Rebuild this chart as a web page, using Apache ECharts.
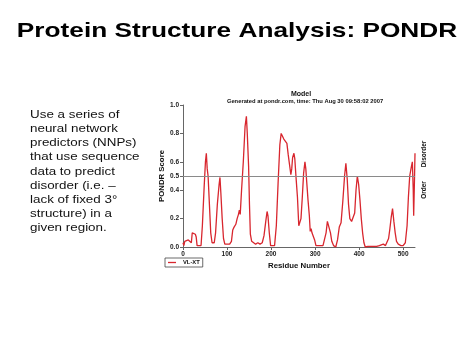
<!DOCTYPE html>
<html>
<head>
<meta charset="utf-8">
<script src="https://cdn.jsdelivr.net/npm/echarts@6/dist/echarts.min.js"></script>
<style>
html,body{margin:0;padding:0;background:#fff;}
#chart{width:474px;height:355px;}
</style>
</head>
<body>
<div id="chart"></div>
<script>
var pageTitle = 'Protein Structure Analysis: PONDR';
var bodyLines = ['Use a series of', 'neural network', 'predictors (NNPs)', 'that use sequence', 'data to predict', 'disorder (i.e. \u2013', 'lack of fixed 3\u00b0', 'structure) in a', 'given region.'];
var chartTitle = 'Model';
var chartSubtitle = 'Generated at pondr.com, time: Thu Aug 30 09:58:02 2007';
var seriesName = 'VL-XT';
var xTicks = [0, 100, 200, 300, 400, 500];
var yTicks = [0, 0.2, 0.4, 0.5, 0.6, 0.8, 1.0];
var threshold = 0.5;
var residues = [0,2,4,8,12,16,19,21,25,28,30,32,36,41,44,48,51,53,55,57,60,63,66,71,74,78,82,84,86,89,92,95,100,106,110,113,116,118,120,123,126,128,130,133,137,141,144,146,149,151,153,156,160,165,170,175,180,184,188,191,193,196,199,203,208,212,216,220,223,226,229,233,236,239,242,245,247,249,252,254,257,260,263,265,268,271,274,277,279,281,284,287,289,291,293,296,299,302,310,318,322,325,328,332,335,338,342,347,351,355,359,363,367,370,373,376,379,383,387,390,393,396,399,402,405,408,411,414,420,430,440,446,450,455,460,464,467,470,473,476,479,482,485,489,495,500,505,509,512,515,519,521,523,524,526,527];
var scores = [0.03,0.01,0.04,0.04,0.05,0.04,0.03,0.10,0.10,0.09,0.07,0.01,0.00,0.01,0.15,0.42,0.60,0.66,0.55,0.50,0.30,0.10,0.03,0.03,0.10,0.30,0.44,0.49,0.38,0.20,0.06,0.02,0.02,0.02,0.04,0.12,0.14,0.13,0.16,0.20,0.23,0.26,0.23,0.40,0.60,0.85,0.92,0.80,0.57,0.30,0.09,0.04,0.03,0.02,0.03,0.02,0.03,0.08,0.18,0.25,0.22,0.10,0.01,0.00,0.01,0.15,0.45,0.72,0.80,0.78,0.76,0.75,0.73,0.65,0.58,0.51,0.55,0.63,0.66,0.62,0.48,0.35,0.15,0.14,0.20,0.35,0.52,0.60,0.55,0.46,0.33,0.22,0.11,0.13,0.10,0.09,0.05,0.01,0.01,0.01,0.02,0.10,0.18,0.18,0.10,0.04,0.01,0.00,0.05,0.14,0.17,0.32,0.50,0.59,0.48,0.30,0.20,0.18,0.17,0.24,0.40,0.50,0.44,0.33,0.20,0.10,0.03,0.00,0.005,0.005,0.005,0.01,0.02,0.02,0.01,0.02,0.06,0.13,0.21,0.27,0.18,0.10,0.04,0.02,0.01,0.01,0.03,0.15,0.35,0.50,0.57,0.60,0.40,0.22,0.50,0.66];

var data = residues.map(function (r, i) { return [r, scores[i]]; });
var chart = echarts.init(document.getElementById('chart'), null, {renderer: 'canvas'});
var FF = '"Liberation Sans", Arial, sans-serif';
chart.setOption({
  animation: false,
  backgroundColor: '#ffffff',
  title: [
    {text: chartTitle, left: 296, top: 86, textAlign: 'center', textStyle: {fontFamily: FF, fontSize: 7, fontWeight: 'bold', color: '#111'}},
    {text: chartSubtitle, left: 300, top: 93.5, textAlign: 'center', textStyle: {fontFamily: FF, fontSize: 5.8, fontWeight: 'bold', color: '#111'}}
  ],
  graphic: [
    {type: 'text', x: 237, y: 31, scaleX: 1.3, style: {text: pageTitle, font: 'bold 20.2px ' + FF, fill: '#000', textAlign: 'center', textVerticalAlign: 'middle'}},
    {type: 'text', x: 30, y: 108, scaleX: 1.29, style: {text: bodyLines.join('\n'), font: '10.4px ' + FF, lineHeight: 14.17, fill: '#111', textAlign: 'left', textVerticalAlign: 'top'}},
    {type: 'text', x: 424, y: 154, rotation: Math.PI / 2, style: {text: 'Disorder', font: 'bold 6.5px ' + FF, fill: '#111', textAlign: 'center', textVerticalAlign: 'middle'}},
    {type: 'text', x: 424, y: 190, rotation: Math.PI / 2, style: {text: 'Order', font: 'bold 6.5px ' + FF, fill: '#111', textAlign: 'center', textVerticalAlign: 'middle'}}
  ],
  legend: {
    data: [{name: seriesName, icon: 'rect'}], left: 165, top: 258, orient: 'horizontal',
    borderColor: '#444', borderWidth: 0.8, padding: [1.5, 3, 1.5, 3],
    itemWidth: 8, itemHeight: 1.3, itemGap: 2,
    textStyle: {fontFamily: FF, fontSize: 5.8, fontWeight: 'bold', color: '#111', padding: [0, 0, 0, 2]}
  },
  grid: {left: 183, right: 59, top: 105, bottom: 108, containLabel: false},
  xAxis: {
    type: 'value', min: 0, max: 527,
    name: 'Residue Number', nameLocation: 'middle', nameGap: 15,
    nameTextStyle: {fontFamily: FF, fontSize: 7.8, fontWeight: 'bold', color: '#111'},
    axisLine: {lineStyle: {color: '#666', width: 1}},
    axisTick: {show: true, customValues: xTicks, length: 3, lineStyle: {color: '#666'}},
    axisLabel: {customValues: xTicks, fontFamily: FF, fontSize: 6.5, color: '#222', margin: 4, fontWeight: 'bold'},
    splitLine: {show: false}
  },
  yAxis: {
    type: 'value', min: 0, max: 1,
    name: 'PONDR Score', nameLocation: 'middle', nameGap: 17, nameRotate: 90,
    nameTextStyle: {fontFamily: FF, fontSize: 7.8, fontWeight: 'bold', color: '#111'},
    axisLine: {show: true, lineStyle: {color: '#666', width: 1}},
    axisTick: {show: true, customValues: yTicks, length: 3, lineStyle: {color: '#666'}},
    axisLabel: {customValues: yTicks, fontFamily: FF, fontSize: 6.5, color: '#222', margin: 4, fontWeight: 'bold',
      formatter: function (v) { return v.toFixed(1); }},
    splitLine: {show: false}
  },
  series: [{
    name: seriesName, type: 'line', data: data, symbol: 'none', smooth: false,
    lineStyle: {color: '#d8262e', width: 1.3}, itemStyle: {color: '#d8262e'},
    markLine: {silent: true, symbol: 'none', label: {show: false},
      lineStyle: {color: '#8a8a8a', width: 1.2, type: 'solid'}, data: [{yAxis: threshold}]}
  }]
});
</script>
</body>
</html>
